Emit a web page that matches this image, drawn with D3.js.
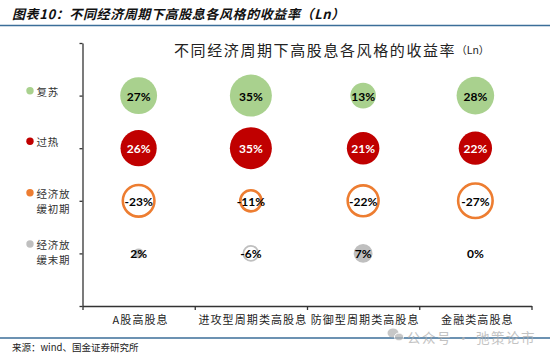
<!DOCTYPE html>
<html><head><meta charset="utf-8">
<script src="https://cdn.jsdelivr.net/npm/d3@7"></script>
<style>
html,body{margin:0;padding:0;background:#fff;}
svg{display:block;}
</style></head>
<body>
<svg id="c" width="550" height="354"></svg>
<script>
const categories = ["A股高股息","进攻型周期类高股息","防御型周期类高股息","金融类高股息"];
const phases = ["复苏","过热","经济放缓初期","经济放缓末期"];
const phaseLines = [["复苏"],["过热"],["经济放","缓初期"],["经济放","缓末期"]];
const recovery = [27,35,13,28];
const overheat = [26,35,21,22];
const earlySlow = [-23,-11,-22,-27];
const lateSlow = [2,-6,7,0];
const yTicks = [0,1,2,3,4,5];

const colors = ["#A9D18E","#C00000","#ED7D31","#BFBFBF"];
const labelColors = ["#000","#fff","#000","#000"];
const series = [recovery, overheat, earlySlow, lateSlow];
const rowVal = [4,3,2,1];

const svg = d3.select("#c");
const cjk = "'Noto Sans CJK SC','Noto Sans',sans-serif";

// header
svg.append("text").attr("x",12).attr("y",13).attr("dominant-baseline","central")
  .attr("font-family",cjk).attr("font-size",13).attr("font-weight","bold").attr("font-style","italic")
  .attr("letter-spacing",0.6).attr("fill","#111")
  .text("图表10：不同经济周期下高股息各风格的收益率（Ln）");
svg.append("line").attr("x1",0).attr("x2",550).attr("y1",25.5).attr("y2",25.5)
  .attr("stroke","#3B6E99").attr("stroke-width",1.5);

// chart title
const t = svg.append("text").attr("x",174).attr("y",49).attr("dominant-baseline","central")
  .attr("font-family",cjk).attr("font-size",15).attr("fill","#222").attr("letter-spacing",1.6);
t.append("tspan").text("不同经济周期下高股息各风格的收益率");
t.append("tspan").attr("font-size",10.5).attr("letter-spacing",0).text("（Ln）");

const x = d3.scaleLinear().domain([0.5,4.5]).range([82.5,531.5]);
const y = d3.scaleLinear().domain([0,5]).range([306,43]);
const r = d3.scaleSqrt().domain([0,35]).range([0,21]);

// axes
svg.append("g").attr("transform","translate(82.5,0)")
  .call(d3.axisLeft(y).tickValues(yTicks).tickFormat("").tickSize(3).tickSizeOuter(0));
svg.append("g").attr("transform","translate(0,306)")
  .call(d3.axisBottom(x).tickValues([0.5,1.5,2.5,3.5,4.5]).tickFormat("").tickSize(4).tickSizeOuter(0));
svg.selectAll(".domain, .tick line").attr("stroke","#333").attr("stroke-width",1.3);

// category labels
svg.append("g").selectAll("text").data(categories).join("text")
  .attr("x",(d,i)=>x(i+1)+2).attr("y",318.5).attr("text-anchor","middle").attr("dominant-baseline","central")
  .attr("font-family",cjk).attr("font-size",11).attr("letter-spacing",1.1).attr("fill","#222")
  .text(d=>d);

// bubbles
series.forEach((vals,si)=>{
  const g = svg.append("g");
  const data = vals.map((v,i)=>({v,i})).filter(d=>d.v!==0);
  g.selectAll("circle").data(data).join("circle")
    .attr("cx",d=>x(d.i+1)).attr("cy",y(rowVal[si]))
    .attr("r",d=> d.v<0 ? Math.max(r(-d.v)-1.2,1) : r(d.v))
    .attr("fill",d=> d.v<0 ? "none" : colors[si])
    .attr("stroke",d=> d.v<0 ? colors[si] : "none")
    .attr("stroke-width",si===3?1.8:2.6);
  g.selectAll("text").data(vals.map((v,i)=>({v,i}))).join("text")
    .attr("x",d=>x(d.i+1)).attr("y",y(rowVal[si])+0.5)
    .attr("text-anchor","middle").attr("dominant-baseline","central")
    .attr("font-family","Lato, 'Liberation Sans', sans-serif").attr("font-weight","bold").attr("font-size",12)
    .attr("fill",labelColors[si])
    .text(d=>d.v+"%");
});

// legend
const legY = [[91],[141.5],[193,208],[244,259.5]];
const dotY = [90.7,141.3,192.7,244];
phaseLines.forEach((lines,i)=>{
  svg.append("circle").attr("cx",30).attr("cy",dotY[i]).attr("r",3.7).attr("fill",colors[i]);
  lines.forEach((ln,j)=>{
    svg.append("text").attr("x",36.5).attr("y",legY[i][j]).attr("dominant-baseline","central")
      .attr("font-family",cjk).attr("font-size",10.5).attr("letter-spacing",0.8).attr("fill","#333")
      .text(ln);
  });
});

// footer
svg.append("line").attr("x1",0).attr("x2",550).attr("y1",338).attr("y2",338)
  .attr("stroke","#3B6E99").attr("stroke-width",1.3);
svg.append("text").attr("x",12).attr("y",347).attr("dominant-baseline","central")
  .attr("font-family",cjk).attr("font-size",9.5).attr("fill","#222")
  .text("来源：wind、国金证券研究所");

// watermark
const wm = svg.append("g").attr("opacity",0.75);
wm.append("ellipse").attr("cx",393).attr("cy",333).attr("rx",5.5).attr("ry",4.6).attr("fill","#b5b5b5");
wm.append("ellipse").attr("cx",399).attr("cy",337).attr("rx",4.6).attr("ry",3.9).attr("fill","#b5b5b5").attr("stroke","#fff").attr("stroke-width",1);
wm.append("text").attr("x",407).attr("y",337).attr("dominant-baseline","central")
  .attr("font-family",cjk).attr("font-size",13.5).attr("fill","#b0b0b0").attr("letter-spacing",1.5)
  .text("公众号 · 弛策论市");
</script>
</body></html>
